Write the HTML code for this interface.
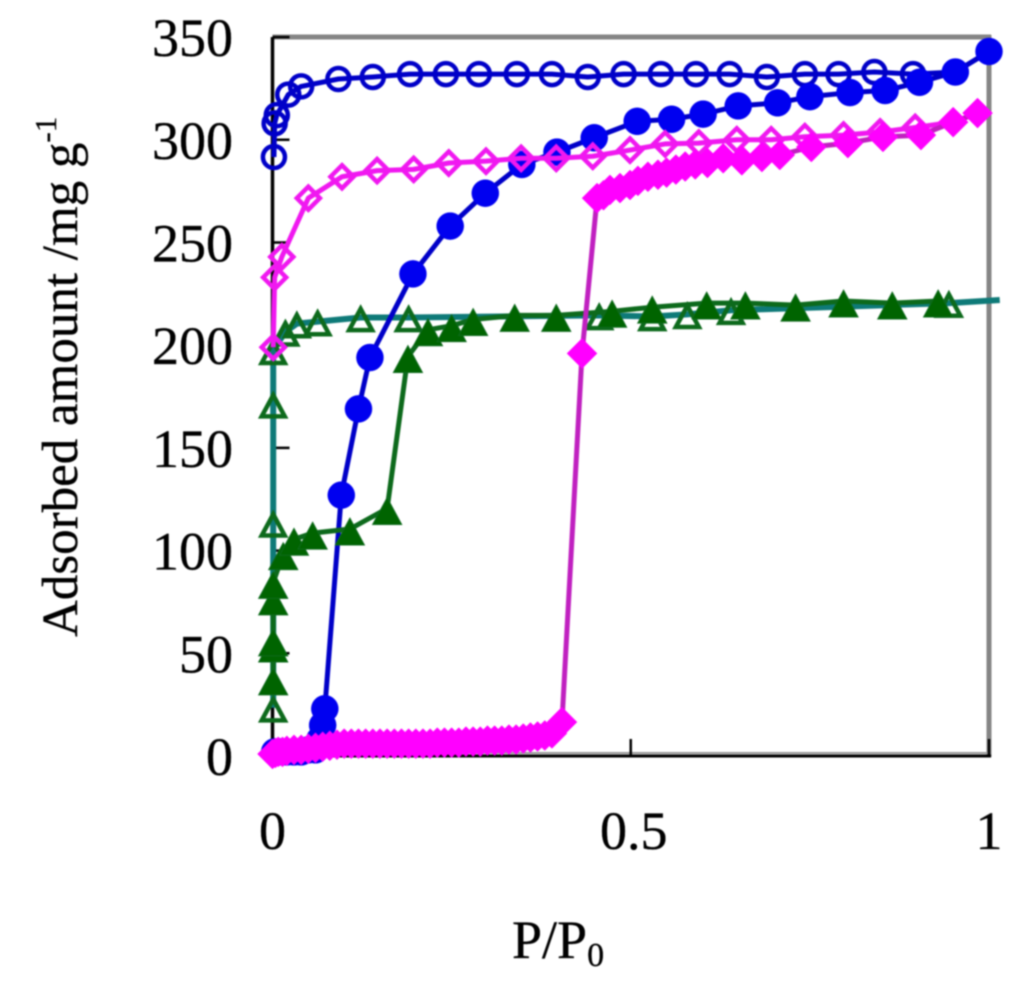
<!DOCTYPE html>
<html>
<head>
<meta charset="utf-8">
<title>Adsorption isotherms</title>
<style>
html,body{margin:0;padding:0;background:#fff;}
svg{display:block;}
text{font-family:"Liberation Serif",serif;fill:#000;stroke:#000;stroke-width:0.35px;}
</style>
</head>
<body>
<svg id="chart" xmlns="http://www.w3.org/2000/svg" width="1024" height="989" viewBox="0 0 1024 989" style="filter:blur(0.9px)">
  <g id="frame"></g>
  <g id="ticks"></g>
  <g id="marks"></g>
  <g id="labels"></g>
  <text x="512" y="958" font-size="54">P/P<tspan font-size="34" dy="8">0</tspan></text>
  <text transform="translate(77,637) rotate(-90)" font-size="51">Adsorbed amount /mg g<tspan font-size="31" dy="-21">-1</tspan></text>
</svg>
<script>
const xTicks = [0, 0.5, 1];
const xTickLabels = ["0", "0.5", "1"];
const yTicks = [0, 50, 100, 150, 200, 250, 300, 350];
const yTickLabels = ["0", "50", "100", "150", "200", "250", "300", "350"];

const blueOpenX = [0.002,0.003,0.006,0.022,0.04,0.092,0.14,0.192,0.242,0.288,0.341,0.39,0.44,0.49,0.542,0.591,0.638,0.69,0.743,0.79,0.84,0.894];
const blueOpenY = [291.6,308,312,322,326,329.6,330.6,332,332,332,332,332,330.6,332,332,332,332,330.6,332,332,333,332];
const blueOpenTailX = [0.953,1];
const blueOpenTailY = [333,343];

const blueFilledX = [0.003,0.01,0.02,0.03,0.04,0.05,0.06,0.066,0.07,0.073,0.096,0.12,0.136,0.196,0.248,0.297,0.348,0.397,0.449,0.509,0.557,0.601,0.65,0.705,0.75,0.806,0.855,0.903,0.953,1];
const blueFilledY = [2,2,2,2,2,3,3,8,15,23,127,169,194,234.7,258,274,288,294,301,309,310,312.5,316.5,318,321,323,324,328,333,343];

const greenOpenX = [0.001,0.001,0.001,0.001,0.018,0.034,0.063,0.123,0.19,0.456,0.53,0.579,0.64,0.944];
const greenOpenY = [23.5,113.5,171.5,197.5,206.5,210.5,211.5,213.5,213.5,214.5,214,215,217,220.5];
const greenOpenTailX = [1.015];
const greenOpenTailY = [222];

const greenFilledX = [0.001,0.001,0.001,0.001,0.001,0.015,0.03,0.056,0.108,0.16,0.189,0.217,0.25,0.28,0.338,0.396,0.474,0.53,0.606,0.66,0.73,0.797,0.865,0.929];
const greenFilledY = [37.5,53.5,56.5,76.5,84.5,98.5,105.5,108.5,110.5,120.5,194.5,207.5,209.5,212.5,214.5,214.5,216.5,218.5,220.5,220.5,219.5,221.5,220.5,221.5];

const magentaOpenX = [0.001,0.003,0.013,0.05,0.097,0.146,0.197,0.246,0.298,0.347,0.396,0.447,0.499,0.548,0.595,0.648,0.696,0.743,0.797,0.848,0.897,0.95,0.984];
const magentaOpenY = [199,233,243,271.6,282,285,285.6,288.7,289.6,291,291,292,295,298,298.4,300,300,301.5,302.3,303.8,306,308.6,313];

const magentaFilledX = [0,0.004,0.008,0.014,0.02,0.03,0.04,0.05,0.06,0.07,0.08,0.09,0.1,0.11,0.12,0.13,0.14,0.15,0.16,0.17,0.18,0.19,0.2,0.21,0.22,0.23,0.24,0.25,0.26,0.27,0.28,0.29,0.3,0.31,0.32,0.33,0.34,0.35,0.36,0.37,0.38,0.39,0.404,0.432,0.453,0.462,0.471,0.485,0.499,0.51,0.524,0.538,0.55,0.563,0.576,0.59,0.607,0.629,0.655,0.683,0.708,0.752,0.803,0.852,0.905,0.95,0.984];
const magentaFilledY = [1,1.5,2,2,2.5,3,3,3.5,4,4.5,5,5.5,6,6,6,6,6,6,6,6,6,6,6,6,6,6.5,6.5,6.5,6.5,7,7,7,7.5,7.5,7.5,8,8,8.5,9,9.5,10,11,16.5,196,271.6,273,275.6,276.5,278,280,282,283,284,285.5,287,288,288.7,291,290,291.6,292.6,296.5,298.4,301.4,302.3,308.6,313];

const X0 = 272.5, XSCALE = 716.5, Y0 = 756, YSCALE = 2.054;
function xAxis(v) { return X0 + v * XSCALE; }
function yAxis(v) { return Y0 - v * YSCALE; }

const NS = "http://www.w3.org/2000/svg";
function mk(tag, parent, attrs) {
  const el = document.createElementNS(NS, tag);
  for (const k in attrs) el.setAttribute(k, attrs[k]);
  parent.appendChild(el);
  return el;
}

const frame = document.getElementById("frame");
const frameTop = mk("line", frame, {x1:xAxis(0), y1:37, x2:xAxis(1)+2, y2:37, stroke:"#858585", "stroke-width":5});


const frameRight = mk("line", frame, {x1:xAxis(1), y1:35, x2:xAxis(1), y2:757, stroke:"#858585", "stroke-width":5});


const frameInner = mk("line", frame, {x1:xAxis(0), y1:Y0-3, x2:xAxis(1), y2:Y0-3, stroke:"#999", "stroke-width":2});


const axisX = mk("line", frame, {x1:xAxis(0), y1:Y0, x2:xAxis(1)+2, y2:Y0, stroke:"#000", "stroke-width":3});


const axisY = mk("line", frame, {x1:xAxis(0), y1:37, x2:xAxis(0), y2:Y0, stroke:"#000", "stroke-width":3.5});



const ticks = document.getElementById("ticks");
const labels = document.getElementById("labels");
yTicks.forEach(function (v, i) {
  const t = mk("line", ticks, {x1:xAxis(0), y1:yAxis(v), x2:xAxis(0)+17, y2:yAxis(v), stroke:"#000", "stroke-width":2.5});
  
  
  const l = mk("text", labels, {x:233, y:yAxis(v)+19, "font-size":54, "text-anchor":"end"});
  l.textContent = yTickLabels[i];
  
  
});
xTicks.forEach(function (v, i) {
  const t = mk("line", ticks, {x1:xAxis(v), y1:Y0, x2:xAxis(v), y2:Y0-17, stroke:"#000", "stroke-width":2.5});
  
  
  const l = mk("text", labels, {x:xAxis(v)+(v===0.5?3:0), y:849, "font-size":54, "text-anchor":"middle"});
  l.textContent = xTickLabels[i];
  
  
});

const marks = document.getElementById("marks");

function drawLine(parent, xs, ys, color, width) {
  const pts = xs.map(function (x, i) { return xAxis(x) + "," + yAxis(ys[i]); }).join(" ");
  const p = mk("polyline", parent, {points:pts, fill:"none", stroke:color, "stroke-width":width, "stroke-linejoin":"round"});
  
  
}

function drawMarker(parent, shape, cx, cy, size, fill, stroke, sw) {
  let m;
  if (shape === "circle") {
    m = mk("circle", parent, {cx:cx, cy:cy, r:size, fill:fill, stroke:stroke, "stroke-width":sw});
  } else if (shape === "diamond") {
    const d = [[cx,cy-size],[cx+size,cy],[cx,cy+size],[cx-size,cy]].map(function (p) { return p.join(","); }).join(" ");
    m = mk("polygon", parent, {points:d, fill:fill, stroke:stroke, "stroke-width":sw, "stroke-linejoin":"miter"});
  } else {
    const d = [[cx,cy-size*0.75],[cx+size,cy+size*1.1],[cx-size,cy+size*1.1]].map(function (p) { return p.join(","); }).join(" ");
    m = mk("polygon", parent, {points:d, fill:fill, stroke:stroke, "stroke-width":sw, "stroke-linejoin":"miter"});
  }
  
  
}

function drawSeries(name, xs, ys, tailX, tailY, lineColor, lineWidth, shape, size, fill, stroke, sw) {
  const g = mk("g", marks, {});
  
  
  drawLine(g, xs.concat(tailX), ys.concat(tailY), lineColor, lineWidth);
  xs.forEach(function (x, i) {
    drawMarker(g, shape, xAxis(x), yAxis(ys[i]), size, fill, stroke, sw);
  });
}

drawSeries("green-desorption-series", greenOpenX, greenOpenY, greenOpenTailX, greenOpenTailY, "#0e7a78", 6, "triangle", 11.5, "none", "#0d6a1c", 4.5);
drawSeries("blue-desorption-series", blueOpenX, blueOpenY, blueOpenTailX, blueOpenTailY, "#0000c8", 5, "circle", 11, "none", "#0000c8", 4.5);
drawSeries("blue-adsorption-series", blueFilledX, blueFilledY, [], [], "#0000c8", 5, "circle", 13.5, "#0000f0", "#0000f0", 0.5);
drawSeries("green-adsorption-series", greenFilledX, greenFilledY, [], [], "#0d6a1c", 5, "triangle", 14.5, "#006400", "#0d6a1c", 1);
drawSeries("magenta-desorption-series", magentaOpenX, magentaOpenY, [], [], "#f018f0", 5, "diamond", 11.5, "none", "#f018f0", 4.5);
drawSeries("magenta-adsorption-series", magentaFilledX, magentaFilledY, [], [], "#c020c0", 5, "diamond", 15, "#ff00ff", "#ff00ff", 0.5);
</script>
</body>
</html>
